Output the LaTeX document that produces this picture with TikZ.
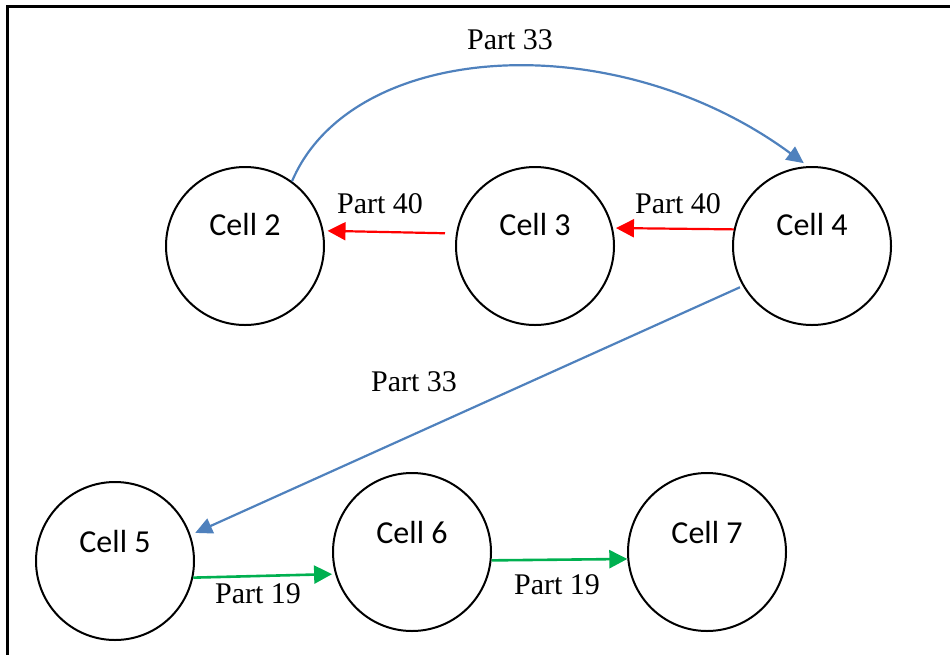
\documentclass[tikz,border=0pt]{standalone}
\usepackage{fontspec}
\setmainfont{Liberation Serif}
\newfontfamily\cellfont{Carlito}
\usetikzlibrary{arrows.meta}
\definecolor{flowblue}{RGB}{79,129,189}
\definecolor{flowred}{RGB}{255,0,0}
\definecolor{flowgreen}{RGB}{0,176,80}
\begin{document}
\begin{tikzpicture}[x=1pt,y=-1pt,
  cell/.style={circle,draw=black,line width=2pt,minimum size=158pt,inner sep=0pt},
  celltext/.style={font=\cellfont\fontsize{32}{36}\selectfont,inner sep=0pt},
  partlabel/.style={font=\fontsize{30}{34}\selectfont,inner sep=0pt},
  flow/.style={line width=2pt,-{Triangle[length=18pt,width=18pt]}},
  greenflow/.style={flow,draw=flowgreen,line width=2.6pt},
  redflow/.style={flow,draw=flowred,line width=2.2pt},
  blueflow/.style={flow,draw=flowblue,line width=2.2pt,-{Triangle[length=17pt,width=16pt]}}]
\useasboundingbox (0,0) rectangle (950,654);
\clip (0,0) rectangle (950,654);
% frame
\draw[line width=2.2pt] (7.5,670) -- (7.5,6.5) -- (970,6.5);

% cells
\node[cell] (c2) at (245,246) {};
\node[cell] (c3) at (535,246) {};
\node[cell] (c4) at (812,246) {};
\node[cell] (c5) at (115,561) {};
\node[cell] (c6) at (412,552) {};
\node[cell] (c7) at (707,552) {};

\node[celltext] (t2) at ([yshift=22pt]c2.center) {Cell 2};
\node[celltext] (t3) at ([yshift=22pt]c3.center) {Cell 3};
\node[celltext] (t4) at ([yshift=22pt]c4.center) {Cell 4};
\node[celltext] (t5) at ([yshift=20pt]c5.center) {Cell 5};
\node[celltext] (t6) at ([yshift=20pt]c6.center) {Cell 6};
\node[celltext] (t7) at ([yshift=20pt]c7.center) {Cell 7};

% flows
\draw[blueflow,shorten >=5pt] (c2.54) .. controls (352,40) and (615,24) .. (c4.93);
\draw[blueflow,shorten <=3pt,shorten >=5pt] (c4.210) -- (c5.19);
\draw[redflow,shorten <=11pt,shorten >=4pt] (c3.171) -- (c2.11);
\draw[redflow,shorten >=3pt] (c4.168) -- (c3.13);
\draw[greenflow,shorten >=3pt] (c5.348) -- (c6.196);
\draw[greenflow] (c6.354) -- (c7.185);

% labels
\node[partlabel] (l1) at (510,40) {Part 33};
\node[partlabel] (l2) at (380,204) {Part 40};
\node[partlabel] (l3) at (678,204) {Part 40};
\node[partlabel] (l4) at (414,382) {Part 33};
\node[partlabel] (l5) at (258,594) {Part 19};
\node[partlabel] (l6) at (557,585) {Part 19};
\end{tikzpicture}
\end{document}
